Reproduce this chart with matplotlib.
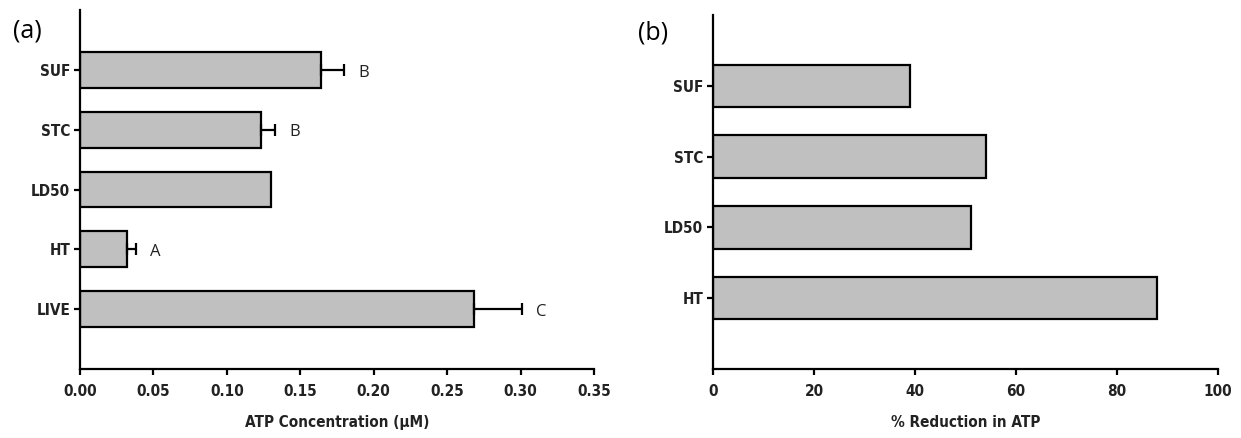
import numpy as np
import matplotlib
matplotlib.use('Agg')
import matplotlib.pyplot as plt

# Panel (a): ATP concentration
groups_a = ['LIVE', 'HT', 'LD50', 'STC', 'SUF']
atp_conc = [0.268, 0.032, 0.130, 0.123, 0.164]
atp_err = [0.033, 0.006, 0.0, 0.010, 0.016]
sig_letters = ['C', 'A', '', 'B', 'B']

# Panel (b): % reduction in ATP
groups_b = ['HT', 'LD50', 'STC', 'SUF']
reduction = [88, 51, 54, 39]

tick_font = ['DejaVu Sans']
bar_color = '#c0c0c0'

fig = plt.figure(figsize=(12.41, 4.38), dpi=100)
ax1 = fig.add_axes([0.0645, 0.1575, 0.4141, 0.8195])
ax2 = fig.add_axes([0.5745, 0.1575, 0.4070, 0.8082])


def style_axis(ax):
    for side in ['top', 'right']:
        ax.spines[side].set_visible(False)
    for side in ['left', 'bottom']:
        ax.spines[side].set_linewidth(1.6)
    ax.tick_params(axis='both', width=1.6, length=4, direction='out')
    ax.tick_params(axis='x', pad=7)
    ax.tick_params(axis='y', pad=3)
    for lab in ax.get_xticklabels() + ax.get_yticklabels():
        lab.set_family(tick_font)
        lab.set_fontweight('bold')
        lab.set_stretch('condensed')
        lab.set_fontsize(11)
        lab.set_color('#222222')


# (a)
ya = np.arange(len(groups_a))
ax1.barh(ya, atp_conc, height=0.6, color=bar_color, edgecolor='black', linewidth=1.6)
has_err = [i for i, e in enumerate(atp_err) if e > 0]
ax1.errorbar([atp_conc[i] for i in has_err], [ya[i] for i in has_err],
             xerr=[[0] * len(has_err), [atp_err[i] for i in has_err]],
             fmt='none', ecolor='black', elinewidth=1.6, capsize=4, capthick=1.6)
for y, v, e, s in zip(ya, atp_conc, atp_err, sig_letters):
    if s:
        ax1.annotate(s, xy=(v + e, y), xytext=(10, -2), textcoords='offset points',
                     ha='left', va='center', fontsize=12, family=['Open Sans', 'DejaVu Sans'],
                     color='#222222')
ax1.set_yticks(ya)
ax1.set_yticklabels(groups_a)
ax1.set_ylim(-1, 5)
ax1.set_xlim(0, 0.35)
ax1.set_xticks(np.arange(0, 0.351, 0.05))
ax1.set_xticklabels(['%.2f' % t for t in np.arange(0, 0.351, 0.05)])
ax1.set_xlabel('ATP Concentration (\u00b5M)', fontsize=11, fontweight='bold',
               family=tick_font, fontstretch='condensed', labelpad=11, color='#222222')
style_axis(ax1)
fig.text(0.022, 0.93, '(a)', fontsize=18, ha='center', va='center',
         family=['Open Sans', 'DejaVu Sans'])

# (b)
yb = np.arange(len(groups_b))
ax2.barh(yb, reduction, height=0.6, color=bar_color, edgecolor='black', linewidth=1.6)
ax2.set_yticks(yb)
ax2.set_yticklabels(groups_b)
ax2.set_ylim(-1, 4)
ax2.set_xlim(0, 100)
ax2.set_xticks(range(0, 101, 20))
ax2.set_xlabel('% Reduction in ATP', fontsize=11, fontweight='bold',
               family=tick_font, fontstretch='condensed', labelpad=11, color='#222222')
style_axis(ax2)
fig.text(0.526, 0.925, '(b)', fontsize=18, ha='center', va='center',
         family=['Open Sans', 'DejaVu Sans'])

fig.savefig('out.png', dpi=100)
